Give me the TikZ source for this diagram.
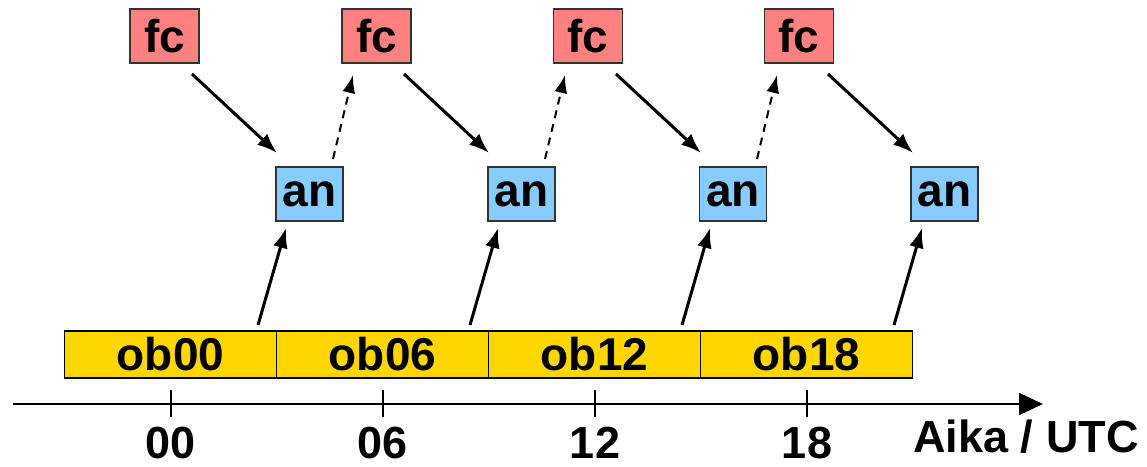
\documentclass[tikz,border=0pt]{standalone}
\usepackage{fontspec}
\setmainfont{Liberation Sans}
\usetikzlibrary{arrows.meta}
\definecolor{fcred}{RGB}{255,128,128}
\definecolor{anblue}{RGB}{136,204,255}
\definecolor{obyel}{RGB}{255,214,0}
\tikzset{
  lbl/.style={font=\fontsize{46}{50}\selectfont\bfseries},
  fcbox/.style={draw=black!80, line width=1.5pt, fill=fcred, minimum width=69pt, minimum height=54pt, inner sep=0pt, lbl},
  anbox/.style={draw=black!80, line width=1.5pt, fill=anblue, minimum width=67pt, minimum height=54pt, inner sep=0pt, lbl},
  obbox/.style={draw=black, line width=1.2pt, fill=obyel, minimum width=212pt, minimum height=47pt, inner sep=0pt, lbl},
  arr/.style={line width=3pt, -{Latex[length=20pt,width=15pt]}},
  darr/.style={line width=2pt, -{Latex[length=18pt,width=13pt]}, dash pattern=on 8pt off 6pt},
  ticklbl/.style={font=\fontsize{45}{50}\selectfont\bfseries, anchor=base, inner sep=0pt, text depth=0pt}
}
\begin{document}
\begin{tikzpicture}[x=1pt,y=-1pt]
\useasboundingbox (0,0) rectangle (1147,466);
% fc boxes
\node[fcbox] (fc1) at (164.5,36) {fc};
\node[fcbox] (fc2) at (376.5,36) {fc};
\node[fcbox] (fc3) at (588,36) {fc};
\node[fcbox] (fc4) at (799,36) {fc};
% an boxes
\node[anbox] (an1) at (309.5,194) {an};
\node[anbox] (an2) at (521.5,194) {an};
\node[anbox] (an3) at (733,194) {an};
\node[anbox] (an4) at (944.5,194) {an};
% ob boxes
\node[obbox] (ob1) at (170.5,354.5) {ob00};
\node[obbox] (ob2) at (382.5,354.5) {ob06};
\node[obbox] (ob3) at (594.5,354.5) {ob12};
\node[obbox] (ob4) at (806.5,354.5) {ob18};
% connector anchors
\foreach \i/\x in {1/0,2/212,3/424,4/636}{
  \coordinate (s\i) at (\x+192,74);
  \coordinate (t\i) at (\x+277,153);
  \coordinate (d\i) at (\x+333,159);
  \coordinate (e\i) at (\x+353,75);
  \coordinate (o\i) at (\x+258,325);
  \coordinate (p\i) at (\x+286,228);
}
\foreach \i in {1,2,3,4}{
  \draw[arr] (s\i) -- (t\i);
  \draw[arr] (o\i) -- (p\i);
}
\foreach \i in {1,2,3}{
  \draw[darr] (d\i) -- (e\i);
}
% axis
\coordinate (ax0) at (13,404);
\coordinate (ax1) at (1043,404);
\draw[line width=1.5pt, -{Triangle[length=24pt,width=22pt]}] (ax0) -- (ax1);
\foreach \x/\t/\n in {171/00/l1,383/06/l2,595/12/l3,807/18/l4}{
  \draw[line width=1.5pt] (\x,390) -- (\x,417);
  \node[ticklbl] (\n) at (\x,458) {\t};
}
\node[font=\fontsize{45}{50}\selectfont\bfseries, anchor=base, inner sep=0pt] (aika) at (1026,452) {Aika / UTC};
\end{tikzpicture}
\end{document}
